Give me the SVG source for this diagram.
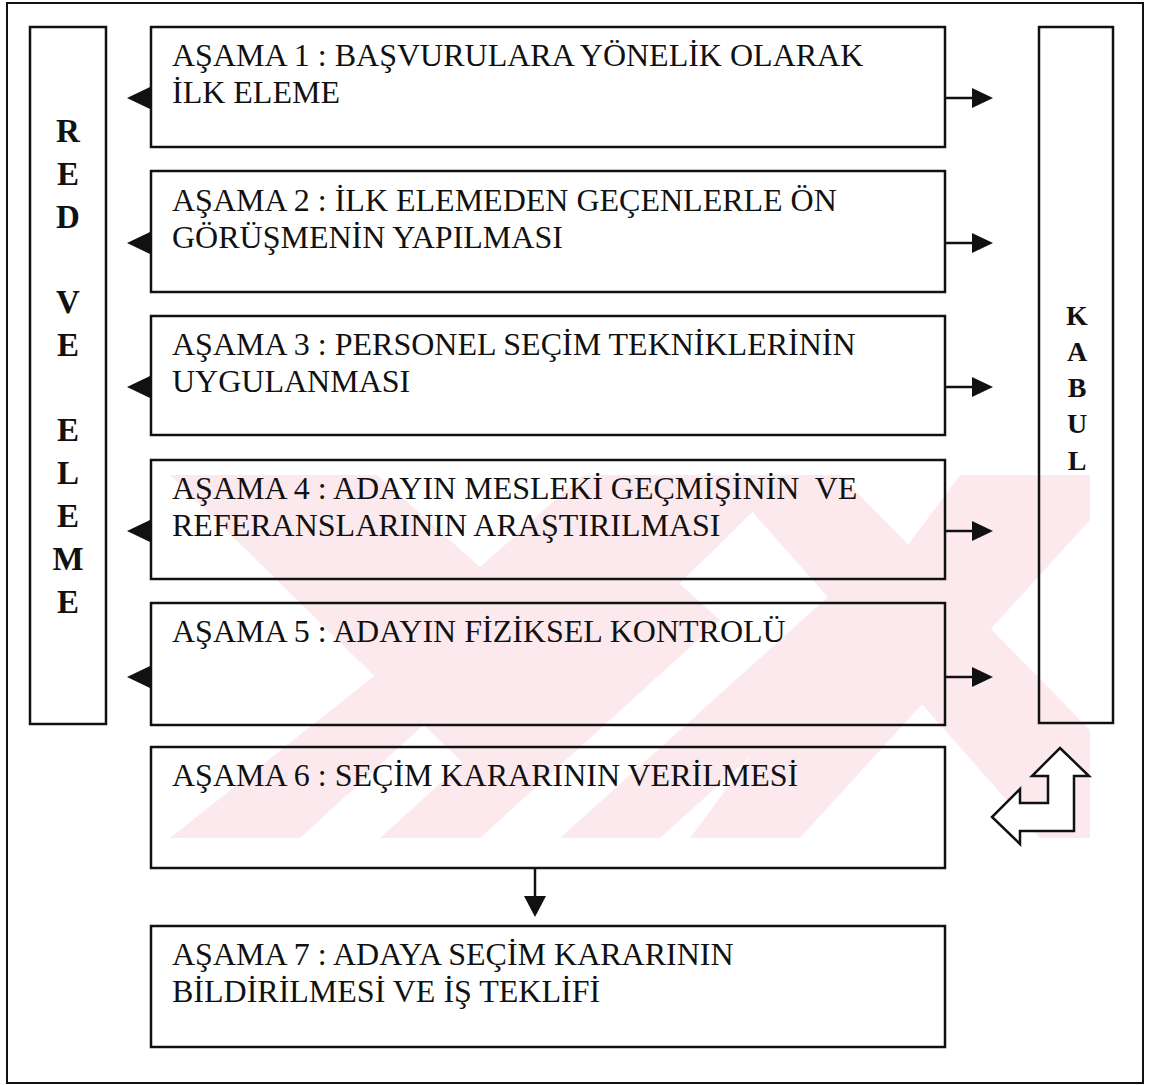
<svg xmlns="http://www.w3.org/2000/svg" width="1149" height="1085" viewBox="0 0 1149 1085">
  <style>
    .box { fill: none; stroke: #111; stroke-width: 2.5; }
    .col { fill: none; stroke: #111; stroke-width: 2.5; }
    .t { font-family: "Liberation Serif", "Times New Roman", serif; font-size: 32px; fill: #111; white-space: pre; }
    .cl { font-family: "Liberation Serif", "Times New Roman", serif; font-size: 33px; font-weight: bold; fill: #111; text-anchor: middle; }
    .kb { font-family: "Liberation Serif", "Times New Roman", serif; font-size: 28px; font-weight: bold; fill: #111; text-anchor: middle; }
    .shaft { stroke: #111; stroke-width: 2.5; fill: none; }
    .head { fill: #111; }
    .wm { fill: #fce9ed; }
  </style>
  <defs>
    <clipPath id="wmclip"><rect x="170" y="475" width="920" height="363"/></clipPath>
  </defs>
  <rect x="0" y="0" width="1149" height="1085" fill="#fff"/>

  <g id="watermark" clip-path="url(#wmclip)">
    <polygon class="wm" points="170,475 377,475 480,567 583,475 790,475 480,780 170,475"/>
    <polygon class="wm" points="170,838 300,838 560,600 520,560"/>
    <polygon class="wm" points="380,838 480,838 720,620 670,575"/>
    <polygon class="wm" points="560,838 660,838 880,640 830,595"/>
    <polygon class="wm" points="720,475 840,475 1090,730 1090,838 1040,838"/>
    <polygon class="wm" points="960,475 1090,475 1090,520 800,838 690,838"/>
  </g>

  <rect id="frame" x="7" y="3" width="1136" height="1080" fill="none" stroke="#111" stroke-width="2"/>

  <g id="red-ve-eleme">
    <rect class="col" x="30" y="27" width="76" height="697"/>
    <text class="cl" x="68" y="141.5">R</text>
    <text class="cl" x="68" y="184.5">E</text>
    <text class="cl" x="68" y="227.5">D</text>
    <text class="cl" x="68" y="313">V</text>
    <text class="cl" x="68" y="356">E</text>
    <text class="cl" x="68" y="441">E</text>
    <text class="cl" x="68" y="484">L</text>
    <text class="cl" x="68" y="527">E</text>
    <text class="cl" x="68" y="570">M</text>
    <text class="cl" x="68" y="613">E</text>
  </g>

  <g id="kabul">
    <rect class="col" x="1039" y="27" width="74" height="696"/>
    <text class="kb" x="1077" y="325">K</text>
    <text class="kb" x="1077" y="361">A</text>
    <text class="kb" x="1077" y="397">B</text>
    <text class="kb" x="1077" y="433">U</text>
    <text class="kb" x="1077" y="470">L</text>
  </g>

  <g id="asama1">
    <rect class="box" x="151" y="27" width="794" height="120"/>
    <text class="t" x="172" y="66">AŞAMA 1 : BAŞVURULARA YÖNELİK OLARAK</text>
    <text class="t" x="172" y="103">İLK ELEME</text>
  </g>
  <g id="asama2">
    <rect class="box" x="151" y="171" width="794" height="121"/>
    <text class="t" x="172" y="211">AŞAMA 2 : İLK ELEMEDEN GEÇENLERLE ÖN</text>
    <text class="t" x="172" y="248">GÖRÜŞMENİN YAPILMASI</text>
  </g>
  <g id="asama3">
    <rect class="box" x="151" y="316" width="794" height="119"/>
    <text class="t" x="172" y="355">AŞAMA 3 : PERSONEL SEÇİM TEKNİKLERİNİN</text>
    <text class="t" x="172" y="392">UYGULANMASI</text>
  </g>
  <g id="asama4">
    <rect class="box" x="151" y="460" width="794" height="119"/>
    <text class="t" x="172" y="499">AŞAMA 4 : ADAYIN MESLEKİ GEÇMİŞİNİN  VE</text>
    <text class="t" x="172" y="536">REFERANSLARININ ARAŞTIRILMASI</text>
  </g>
  <g id="asama5">
    <rect class="box" x="151" y="603" width="794" height="122"/>
    <text class="t" x="172" y="642">AŞAMA 5 : ADAYIN FİZİKSEL KONTROLÜ</text>
  </g>
  <g id="asama6">
    <rect class="box" x="151" y="747" width="794" height="121"/>
    <text class="t" x="172" y="786">AŞAMA 6 : SEÇİM KARARININ VERİLMESİ</text>
  </g>
  <g id="asama7">
    <rect class="box" x="151" y="926" width="794" height="121"/>
    <text class="t" x="172" y="965">AŞAMA 7 : ADAYA SEÇİM KARARININ</text>
    <text class="t" x="172" y="1002">BİLDİRİLMESİ VE İŞ TEKLİFİ</text>
  </g>

  <g id="connectors">
    <polygon class="head" points="127,98 150,87 150,109"/>
    <polygon class="head" points="127,243 150,232 150,254"/>
    <polygon class="head" points="127,387 150,376 150,398"/>
    <polygon class="head" points="127,531 150,520 150,542"/>
    <polygon class="head" points="127,677 150,666 150,688"/>
    <line class="shaft" x1="945" y1="98" x2="973" y2="98"/>
    <polygon class="head" points="993,98 972,88 972,108"/>
    <line class="shaft" x1="945" y1="243" x2="973" y2="243"/>
    <polygon class="head" points="993,243 972,233 972,253"/>
    <line class="shaft" x1="945" y1="387" x2="973" y2="387"/>
    <polygon class="head" points="993,387 972,377 972,397"/>
    <line class="shaft" x1="945" y1="531" x2="973" y2="531"/>
    <polygon class="head" points="993,531 972,521 972,541"/>
    <line class="shaft" x1="945" y1="677" x2="973" y2="677"/>
    <polygon class="head" points="993,677 972,667 972,687"/>
    <line class="shaft" x1="535" y1="868" x2="535" y2="898"/>
    <polygon class="head" points="535,917 524,896 546,896"/>
    <polygon points="1060,748 1089,776 1074,776 1074,831 1020,831 1020,844 992,817 1020,789 1020,803 1048,803 1048,776 1032,776" fill="#fff" stroke="#111" stroke-width="2.5" stroke-linejoin="miter"/>
  </g>
</svg>
